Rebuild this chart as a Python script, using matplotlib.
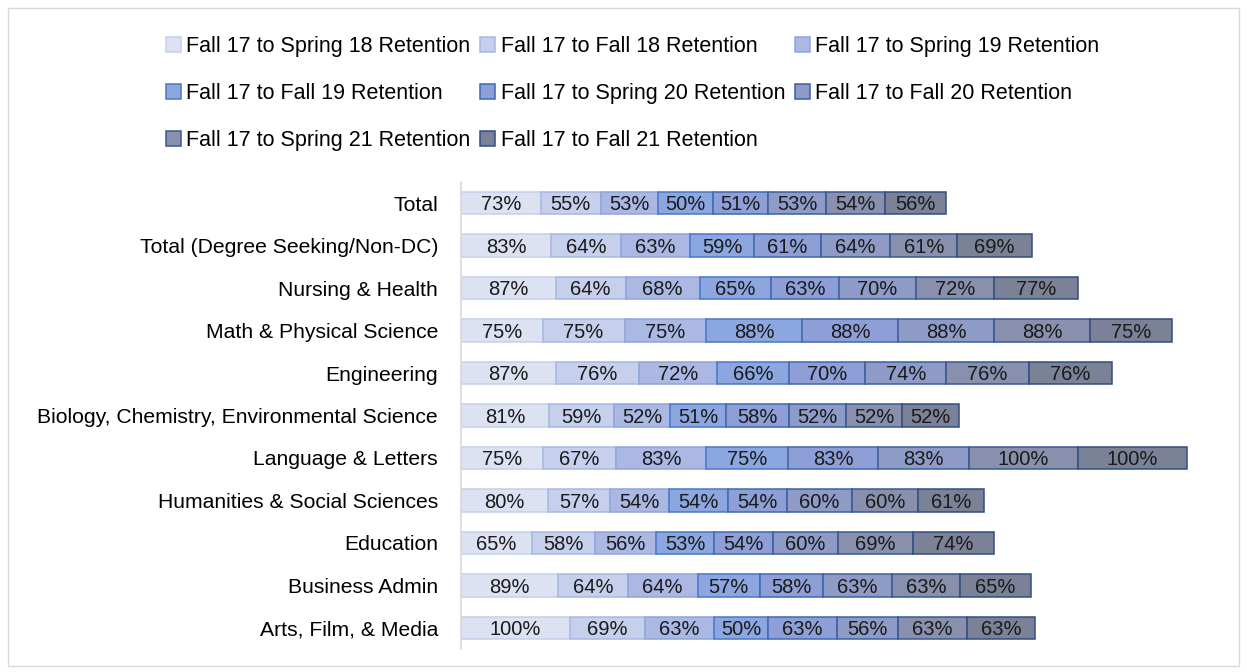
import matplotlib.pyplot as plt
from matplotlib.patches import Rectangle

categories = ['Total', 'Total (Degree Seeking/Non-DC)', 'Nursing & Health',
              'Math & Physical Science', 'Engineering',
              'Biology, Chemistry, Environmental Science', 'Language & Letters',
              'Humanities & Social Sciences', 'Education', 'Business Admin',
              'Arts, Film, & Media']
series_names = ['Fall 17 to Spring 18 Retention', 'Fall 17 to Fall 18 Retention',
                'Fall 17 to Spring 19 Retention', 'Fall 17 to Fall 19 Retention',
                'Fall 17 to Spring 20 Retention', 'Fall 17 to Fall 20 Retention',
                'Fall 17 to Spring 21 Retention', 'Fall 17 to Fall 21 Retention']
# one list per category, in series order
values = [
    [73, 55, 53, 50, 51, 53, 54, 56],
    [83, 64, 63, 59, 61, 64, 61, 69],
    [87, 64, 68, 65, 63, 70, 72, 77],
    [75, 75, 75, 88, 88, 88, 88, 75],
    [87, 76, 72, 66, 70, 74, 76, 76],
    [81, 59, 52, 51, 58, 52, 52, 52],
    [75, 67, 83, 75, 83, 83, 100, 100],
    [80, 57, 54, 54, 54, 60, 60, 61],
    [65, 58, 56, 53, 54, 60, 69, 74],
    [89, 64, 64, 57, 58, 63, 63, 65],
    [100, 69, 63, 50, 63, 56, 63, 63],
]

fills = ['#dde2f2', '#c6cfeb', '#aab8e3', '#8ca6e0', '#8d9fd6', '#8e9bc6', '#8890ad', '#7b8297']
edges = ['#c5cfec', '#a9b8e2', '#8ea6dc', '#4a76c8', '#4068b2', '#3b60a2', '#385892', '#304f80']

plt.rcParams['font.family'] = ['Liberation Sans', 'DejaVu Sans']
fig = plt.figure(figsize=(12.47, 6.72), dpi=100)
ax = fig.add_axes([461 / 1247, 1 - 649 / 672, 763 / 1247, (649 - 182) / 672])

ypos = list(range(len(categories)))
handles = []
for j, name in enumerate(series_names):
    left = [sum(v[:j]) for v in values]
    width = [v[j] for v in values]
    bars = ax.barh(ypos, width, left=left, height=0.53, color=fills[j],
                   edgecolor=edges[j], linewidth=1.1, label=name)
    handles.append(bars)
    for y, l, w in zip(ypos, left, width):
        ax.text(l + w / 2, y + 0.04, f'{w}%', ha='center', va='center',
                fontsize=14.5, color='#1a1a1a')

ax.set_ylim(len(categories) - 0.5, -0.5)
ax.set_xlim(0, 700)
ax.set_yticks(ypos)
ax.set_yticklabels(categories, fontsize=15.2)
ax.set_xticks([])
ax.tick_params(axis='y', length=0, pad=16.5)
for s in ['top', 'right', 'bottom']:
    ax.spines[s].set_visible(False)
ax.spines['left'].set_color('#d9d9d9')
ax.spines['left'].set_linewidth(1.2)

order = [0, 3, 6, 1, 4, 7, 2, 5]
fig.legend([handles[i] for i in order], [series_names[i] for i in order],
           ncol=3, loc='upper left', bbox_to_anchor=(166 / 1247, 1 - 36 / 672),
           frameon=False, fontsize=15.5, handlelength=0.7, handleheight=0.7,
           handletextpad=0.25, columnspacing=0.45, labelspacing=1.2,
           borderaxespad=0, borderpad=0)

fig.patches.append(Rectangle((8 / 1247, 6 / 672), 1231 / 1247, 658 / 672,
                             transform=fig.transFigure, fill=False,
                             edgecolor='#d9d9d9', linewidth=1))

fig.savefig('out.png', dpi=100)
